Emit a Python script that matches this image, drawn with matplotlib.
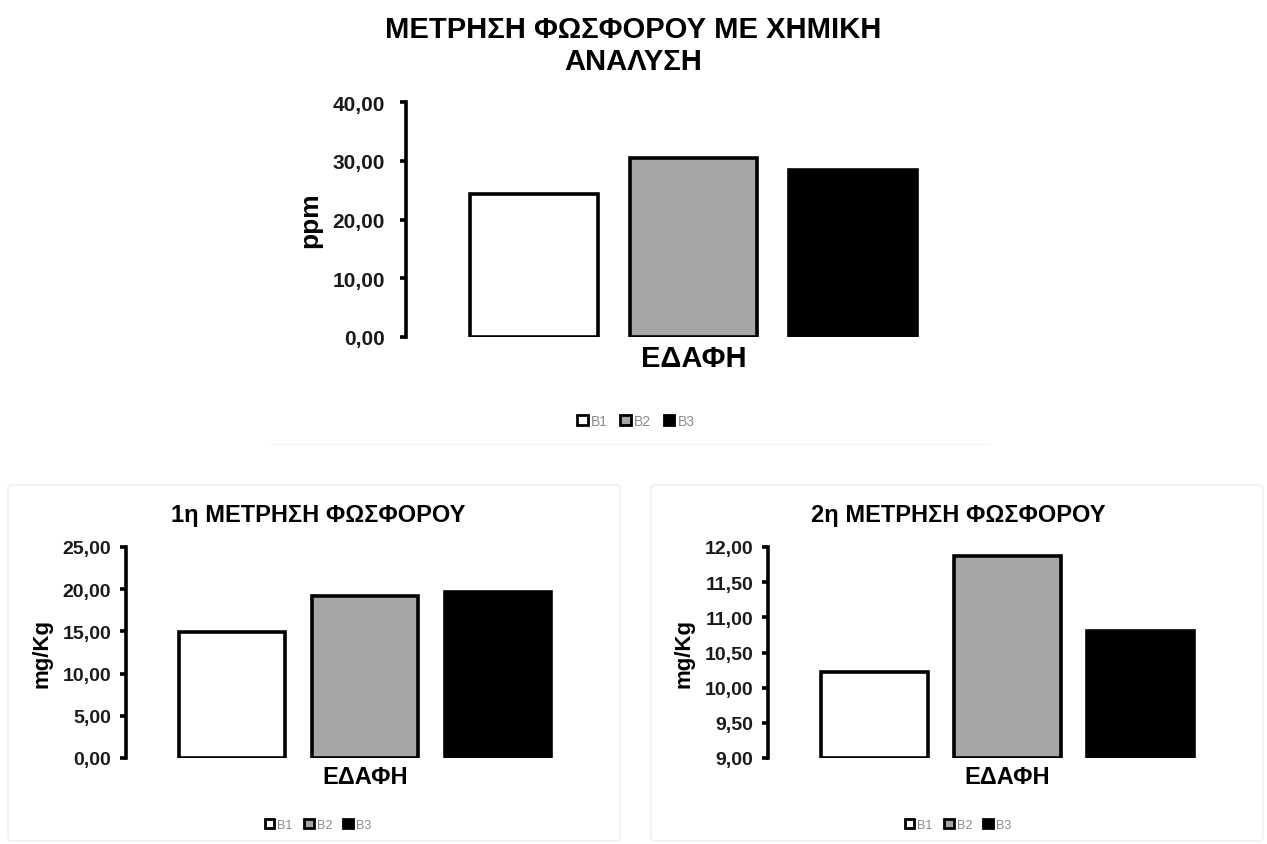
import matplotlib
matplotlib.use("Agg")
import matplotlib.pyplot as plt
from matplotlib.patches import FancyBboxPatch, Patch
from matplotlib.ticker import FuncFormatter

plt.rcParams['font.family'] = ['Liberation Sans', 'DejaVu Sans']

# Data
series = ["B1", "B2", "B3"]
category = "ΕΔΑΦΗ"
colors = ["#ffffff", "#a6a6a6", "#000000"]

chem_values = [24.4, 30.5, 28.5]      # ppm
first_values = [14.95, 19.25, 19.7]   # mg/Kg
second_values = [10.22, 11.87, 10.81] # mg/Kg

W, H = 1267, 845
fig = plt.figure(figsize=(W / 100, H / 100), dpi=100)
fig.patch.set_facecolor("white")
PT = 72 / 100  # points per pixel


def px_axes(x0, y0, x1, y1):
    """Axes from pixel box (top-left origin)."""
    return fig.add_axes([x0 / W, 1 - y1 / H, (x1 - x0) / W, (y1 - y0) / H])


def comma_fmt(v, _):
    return f"{v:.2f}".replace(".", ",")


def draw_panel(ax, values, ymin, ymax, step, ylabel, tick_fs, tick_pad_px,
               ylab_fs, cat_fs, ylab_right_px):
    offsets = [-1, 0, 1]
    for off, val, col, name in zip(offsets, values, colors, series):
        ax.bar(off, val - ymin, bottom=ymin, width=0.8, color=col,
               edgecolor="black", linewidth=2.6, label=name, zorder=3)
    ax.set_xlim(-1.8, 1.8)
    ax.set_ylim(ymin, ymax)
    ticks = []
    t = ymin
    while t <= ymax + 1e-9:
        ticks.append(round(t, 4))
        t += step
    ax.set_yticks(ticks)
    ax.yaxis.set_major_formatter(FuncFormatter(comma_fmt))
    ax.set_xticks([0])
    ax.set_xticklabels([category], fontsize=cat_fs, fontweight="bold")
    ax.tick_params(axis="x", length=0, pad=5)
    ax.tick_params(axis="y", direction="out", length=6 * PT, width=2.6,
                   labelsize=tick_fs, pad=tick_pad_px * PT)
    for lab in ax.get_yticklabels():
        lab.set_fontweight("bold")
        lab.set_color("#1a1a1a")
    for s in ["top", "right", "bottom"]:
        ax.spines[s].set_visible(False)
    ax.spines["left"].set_linewidth(2.6)
    ax.set_ylabel(ylabel, fontsize=ylab_fs, fontweight="bold")
    width_px = ax.get_position().width * W
    ax.yaxis.set_label_coords(-ylab_right_px / width_px, 0.5, transform=ax.transAxes)
    ax.set_facecolor("none")


def legend_at(xc, yc, fs):
    handles = [Patch(facecolor=c, edgecolor="black", linewidth=2.0) for c in colors]
    fig.legend(handles, series, loc="center", bbox_to_anchor=(xc / W, 1 - yc / H),
               ncol=3, frameon=False, fontsize=fs, handlelength=0.75,
               handleheight=0.75, handletextpad=0.25, columnspacing=0.9,
               labelcolor="#8c8c8c")


# Faint chart-area outlines
for (x0, y0, x1, y1) in [(8, 486, 620, 842), (651, 486, 1263, 842)]:
    fig.patches.append(FancyBboxPatch((x0 / W, 1 - y1 / H), (x1 - x0) / W, (y1 - y0) / H,
                                      boxstyle="round,pad=0,rounding_size=0.004",
                                      transform=fig.transFigure, facecolor="none",
                                      edgecolor="#ededed", linewidth=1.0))
fig.add_artist(plt.Line2D([272 / W, 990 / W], [1 - 445 / H, 1 - 445 / H],
                          transform=fig.transFigure, color="#f4f4f4", linewidth=1.0))

# Top chart
ax_top = px_axes(406, 103, 981, 338)
draw_panel(ax_top, chem_values, 0, 40, 10, "ppm", 15, 15, 19, 21, 84)
fig.text(633 / W, 1 - 46 / H, "ΜΕΤΡΗΣΗ ΦΩΣΦΟΡΟΥ ΜΕ ΧΗΜΙΚΗ\nΑΝΑΛΥΣΗ", ha="center",
         va="center", fontsize=21, fontweight="bold", linespacing=1.15)
legend_at(636, 422, 10)

# Bottom left chart
ax_bl = px_axes(126, 548, 604, 759)
draw_panel(ax_bl, first_values, 0, 25, 5, "mg/Kg", 14, 9, 16, 17, 73)
fig.text(318 / W, 1 - 516 / H, "1η ΜΕΤΡΗΣΗ ΦΩΣΦΟΡΟΥ", ha="center", va="center",
         fontsize=17, fontweight="bold")
legend_at(318, 826, 9)

# Bottom right chart
ax_br = px_axes(768, 548, 1247, 759)
draw_panel(ax_br, second_values, 9, 12, 0.5, "mg/Kg", 14, 9, 16, 17, 74)
fig.text(958 / W, 1 - 516 / H, "2η ΜΕΤΡΗΣΗ ΦΩΣΦΟΡΟΥ", ha="center", va="center",
         fontsize=17, fontweight="bold")
legend_at(958, 826, 9)

fig.savefig("out.png", dpi=100, facecolor="white")
